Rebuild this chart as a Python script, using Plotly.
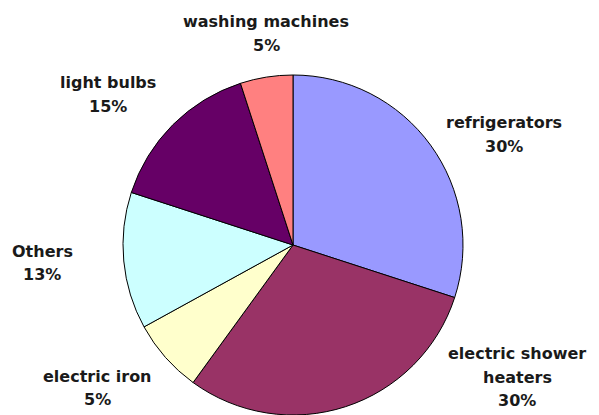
import plotly.graph_objects as go

# ---- data ----
categories = ["refrigerators", "electric shower heaters", "electric iron",
              "Others", "light bulbs", "washing machines"]
values = [30, 30, 7, 13, 15, 5]
pct_labels = ["30%", "30%", "5%", "13%", "15%", "5%"]
label_lines = [["refrigerators"], ["electric shower", "heaters"], ["electric iron"],
               ["Others"], ["light bulbs"], ["washing machines"]]

# ---- style / layout ----
colors = ["#9999FF", "#993366", "#FFFFCC", "#CCFFFF", "#660066", "#FF8080"]
OFF = 8                      # page body margin offset
W, H = 599 - OFF, 415 - OFF  # figure size so it fits the window
MT = 75 - OFF
CX = 293 - OFF
label_pos = [(504, 134.5), (517, 377), (97, 388), (42, 263), (108, 94.5), (266, 33.5)]
LINE = 23.5

fig = go.Figure(go.Pie(
    labels=categories,
    values=values,
    sort=False,
    direction="clockwise",
    rotation=0,
    marker=dict(colors=colors, line=dict(color="#000000", width=1)),
    textinfo="none",
    hoverinfo="label+percent",
    showlegend=False,
    domain=dict(x=[CX / W - 0.3, CX / W + 0.3], y=[0, 1]),
))

annotations = []
for i in range(len(categories)):
    lines = label_lines[i] + [pct_labels[i]]
    n = len(lines)
    cx, cy = label_pos[i]
    cx -= OFF
    cy -= OFF
    for k, line in enumerate(lines):
        py = cy + (k - (n - 1) / 2) * LINE
        annotations.append(dict(
            x=cx / W, y=(H - py) / (H - MT), xref="paper", yref="paper",
            text="<b>" + line + "</b>", showarrow=False,
            xanchor="center", yanchor="middle",
            font=dict(family="DejaVu Sans", size=16, color="#1a1a1a"),
        ))

fig.update_layout(
    width=W, height=H,
    margin=dict(l=0, r=0, t=MT, b=0),
    paper_bgcolor="white", plot_bgcolor="white",
    annotations=annotations,
)

fig.write_html("out.html")
